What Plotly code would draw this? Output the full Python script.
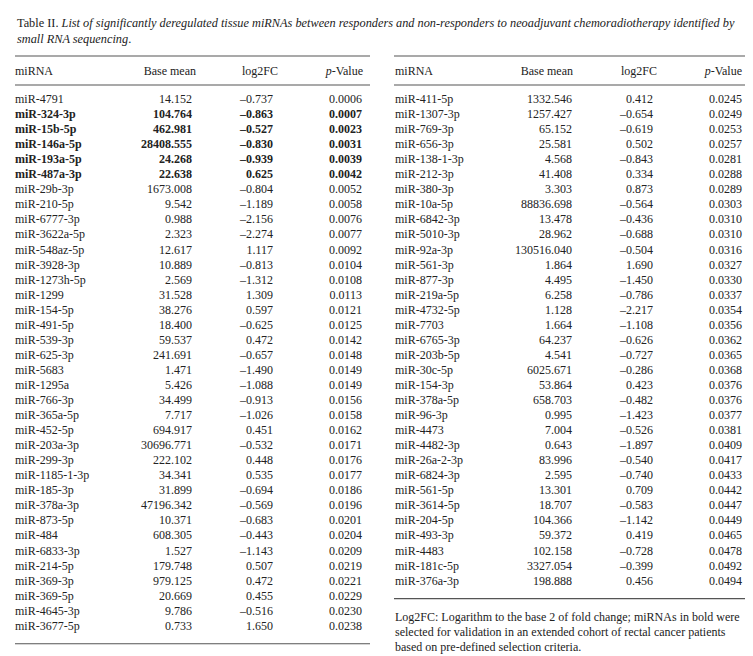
import plotly.graph_objects as go

# ---------------- data ----------------
left_mirna = ["miR-4791", "miR-324-3p", "miR-15b-5p", "miR-146a-5p", "miR-193a-5p", "miR-487a-3p",
              "miR-29b-3p", "miR-210-5p", "miR-6777-3p", "miR-3622a-5p", "miR-548az-5p", "miR-3928-3p",
              "miR-1273h-5p", "miR-1299", "miR-154-5p", "miR-491-5p", "miR-539-3p", "miR-625-3p",
              "miR-5683", "miR-1295a", "miR-766-3p", "miR-365a-5p", "miR-452-5p", "miR-203a-3p",
              "miR-299-3p", "miR-1185-1-3p", "miR-185-3p", "miR-378a-3p", "miR-873-5p", "miR-484",
              "miR-6833-3p", "miR-214-5p", "miR-369-3p", "miR-369-5p", "miR-4645-3p", "miR-3677-5p"]
left_base = [14.152, 104.764, 462.981, 28408.555, 24.268, 22.638, 1673.008, 9.542, 0.988, 2.323,
             12.617, 10.889, 2.569, 31.528, 38.276, 18.400, 59.537, 241.691, 1.471, 5.426, 34.499,
             7.717, 694.917, 30696.771, 222.102, 34.341, 31.899, 47196.342, 10.371, 608.305, 1.527,
             179.748, 979.125, 20.669, 9.786, 0.733]
left_log2fc = [-0.737, -0.863, -0.527, -0.830, -0.939, 0.625, -0.804, -1.189, -2.156, -2.274,
               1.117, -0.813, -1.312, 1.309, 0.597, -0.625, 0.472, -0.657, -1.490, -1.088, -0.913,
               -1.026, 0.451, -0.532, 0.448, 0.535, -0.694, -0.569, -0.683, -0.443, -1.143,
               0.507, 0.472, 0.455, -0.516, 1.650]
left_pval = [0.0006, 0.0007, 0.0023, 0.0031, 0.0039, 0.0042, 0.0052, 0.0058, 0.0076, 0.0077,
             0.0092, 0.0104, 0.0108, 0.0113, 0.0121, 0.0125, 0.0142, 0.0148, 0.0149, 0.0149,
             0.0156, 0.0158, 0.0162, 0.0171, 0.0176, 0.0177, 0.0186, 0.0196, 0.0201, 0.0204,
             0.0209, 0.0219, 0.0221, 0.0229, 0.0230, 0.0238]

right_mirna = ["miR-411-5p", "miR-1307-3p", "miR-769-3p", "miR-656-3p", "miR-138-1-3p", "miR-212-3p",
               "miR-380-3p", "miR-10a-5p", "miR-6842-3p", "miR-5010-3p", "miR-92a-3p", "miR-561-3p",
               "miR-877-3p", "miR-219a-5p", "miR-4732-5p", "miR-7703", "miR-6765-3p", "miR-203b-5p",
               "miR-30c-5p", "miR-154-3p", "miR-378a-5p", "miR-96-3p", "miR-4473", "miR-4482-3p",
               "miR-26a-2-3p", "miR-6824-3p", "miR-561-5p", "miR-3614-5p", "miR-204-5p", "miR-493-3p",
               "miR-4483", "miR-181c-5p", "miR-376a-3p"]
right_base = [1332.546, 1257.427, 65.152, 25.581, 4.568, 41.408, 3.303, 88836.698, 13.478, 28.962,
              130516.040, 1.864, 4.495, 6.258, 1.128, 1.664, 64.237, 4.541, 6025.671, 53.864,
              658.703, 0.995, 7.004, 0.643, 83.996, 2.595, 13.301, 18.707, 104.366, 59.372,
              102.158, 3327.054, 198.888]
right_log2fc = [0.412, -0.654, -0.619, 0.502, -0.843, 0.334, 0.873, -0.564, -0.436, -0.688,
                -0.504, 1.690, -1.450, -0.786, -2.217, -1.108, -0.626, -0.727, -0.286, 0.423,
                -0.482, -1.423, -0.526, -1.897, -0.540, -0.740, 0.709, -0.583, -1.142, 0.419,
                -0.728, -0.399, 0.456]
right_pval = [0.0245, 0.0249, 0.0253, 0.0257, 0.0281, 0.0288, 0.0289, 0.0303, 0.0310, 0.0310,
              0.0316, 0.0327, 0.0330, 0.0337, 0.0354, 0.0356, 0.0362, 0.0365, 0.0368, 0.0376,
              0.0376, 0.0377, 0.0381, 0.0409, 0.0417, 0.0433, 0.0442, 0.0447, 0.0449, 0.0465,
              0.0478, 0.0492, 0.0494]

bold_mirnas = ["miR-324-3p", "miR-15b-5p", "miR-146a-5p", "miR-193a-5p", "miR-487a-3p"]

header_labels = ["miRNA", "Base mean", "log2FC", "<i>p</i>-Value"]

title_text = ("Table II. <i>List of significantly deregulated tissue miRNAs between responders and "
              "non-responders to neoadjuvant chemoradiotherapy identified by</i><br>"
              "<i>small RNA sequencing</i>.")
footnote_lines = ["Log2FC: Logarithm to the base 2 of fold change; miRNAs in bold were",
                  "selected for validation in an extended cohort of rectal cancer patients",
                  "based on pre-defined selection criteria."]

# ---------------- layout constants ----------------
W, H = 753, 656
FONT = "Liberation Serif, Times New Roman, serif"
TXT = "#222222"
RULE = "#555555"
FS = 12

first_row_y = 92
row_h = 15.05
header_y = 64
top_rule_y = 48
header_rule_y = 77

def fmt(v, nd):
    return f"{v:.{nd}f}".replace("-", "\u2013")

fig = go.Figure()

def add_table(x0, x1, cols, hdr_cols, mirna, base, l2fc, pval):
    n = len(mirna)
    ys = [first_row_y + i * row_h for i in range(n)]
    def b(s, m):
        return f"<b>{s}</b>" if m in bold_mirnas else s
    col_texts = [
        [b(m, m) for m in mirna],
        [b(fmt(v, 3), m) for v, m in zip(base, mirna)],
        [b(fmt(v, 3), m) for v, m in zip(l2fc, mirna)],
        [b(fmt(v, 4), m) for v, m in zip(pval, mirna)],
    ]
    for j, (cx, texts) in enumerate(zip(cols, col_texts)):
        fig.add_trace(go.Scatter(
            x=[cx] * n, y=ys, mode="text", text=texts,
            textposition="middle right" if j == 0 else "middle left",
            textfont=dict(family=FONT, size=FS, color=TXT),
            hoverinfo="skip", showlegend=False))
    for j, (hx, lab) in enumerate(zip(hdr_cols, header_labels)):
        fig.add_trace(go.Scatter(
            x=[hx], y=[header_y], mode="text", text=[lab],
            textposition="middle right" if j == 0 else "middle left",
            textfont=dict(family=FONT, size=FS, color=TXT),
            hoverinfo="skip", showlegend=False))
    bottom_y = ys[-1] + 17
    for yy in (top_rule_y, header_rule_y, bottom_y):
        fig.add_shape(type="line", x0=x0, x1=x1, y0=yy, y1=yy, xref="x", yref="y",
                      line=dict(color=RULE, width=1.2))
    return bottom_y

add_table(7, 362, [7, 184, 265, 354], [7, 188, 270, 355],
          left_mirna, left_base, left_log2fc, left_pval)
rb = add_table(386, 746, [387, 564, 645, 734], [387, 565, 649, 734],
               right_mirna, right_base, right_log2fc, right_pval)

fig.add_annotation(x=7, y=6, xref="x", yref="y", text=title_text, showarrow=False,
                   xanchor="left", yanchor="top", align="left",
                   font=dict(family=FONT, size=12.3, color=TXT))
for k, line in enumerate(footnote_lines):
    fig.add_annotation(x=385, y=rb + 18 + k * 15, xref="x", yref="y", text=line, showarrow=False,
                       xanchor="left", yanchor="middle", align="left",
                       font=dict(family=FONT, size=12, color=TXT))

fig.update_layout(
    width=W, height=H, margin=dict(l=0, r=0, t=0, b=0),
    paper_bgcolor="white", plot_bgcolor="white",
    xaxis=dict(range=[0, W], visible=False, fixedrange=True),
    yaxis=dict(range=[H, 0], visible=False, fixedrange=True),
)

fig.write_html("out.html")
